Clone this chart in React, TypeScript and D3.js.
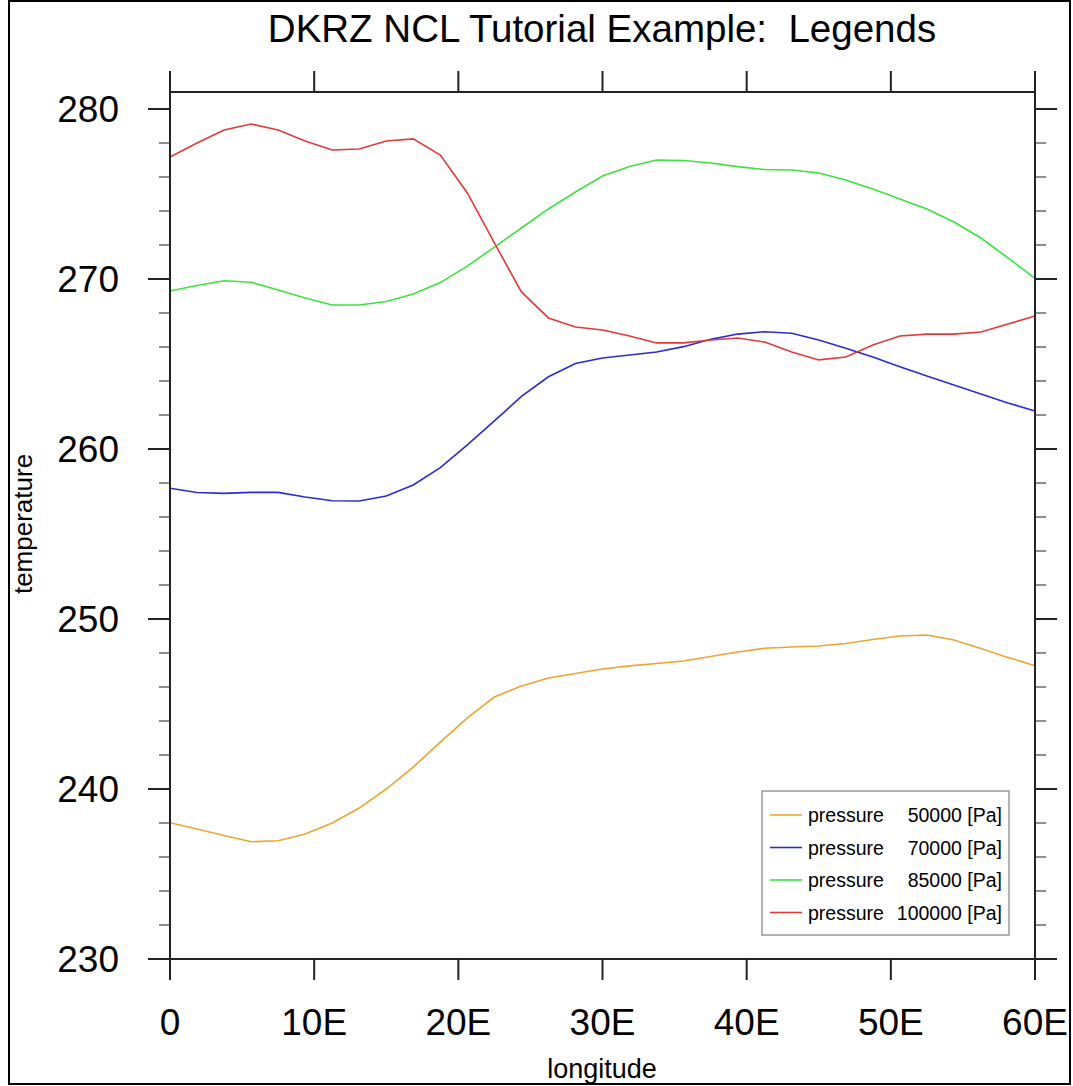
import React from "react";
import * as d3 from "d3";

const lons: number[] = d3.range(33).map((i) => i * 1.875);

const t500: number[] = [238.02, 237.65, 237.26, 236.9, 236.96, 237.35, 238.0, 238.88, 240.0, 241.29, 242.76, 244.18, 245.41, 246.06, 246.53, 246.79, 247.06, 247.24, 247.38, 247.53, 247.79, 248.06, 248.28, 248.35, 248.41, 248.56, 248.79, 249.0, 249.06, 248.76, 248.26, 247.74, 247.25];
const t700: number[] = [257.69, 257.44, 257.39, 257.45, 257.45, 257.18, 256.96, 256.94, 257.24, 257.88, 258.9, 260.24, 261.65, 263.09, 264.25, 265.03, 265.35, 265.53, 265.71, 266.02, 266.45, 266.76, 266.9, 266.81, 266.41, 265.92, 265.41, 264.84, 264.29, 263.76, 263.24, 262.71, 262.24];
const t850: number[] = [269.29, 269.62, 269.9, 269.81, 269.35, 268.88, 268.47, 268.47, 268.68, 269.12, 269.79, 270.76, 271.88, 273.0, 274.12, 275.12, 276.06, 276.62, 277.0, 276.97, 276.82, 276.61, 276.44, 276.41, 276.24, 275.82, 275.29, 274.71, 274.12, 273.35, 272.41, 271.24, 270.04];
const t1000: number[] = [277.18, 278.0, 278.76, 279.12, 278.76, 278.12, 277.59, 277.65, 278.12, 278.24, 277.29, 275.06, 272.12, 269.24, 267.71, 267.18, 267.0, 266.65, 266.24, 266.24, 266.41, 266.53, 266.29, 265.7, 265.24, 265.41, 266.12, 266.65, 266.76, 266.76, 266.88, 267.35, 267.82];

const seriesLevels: string[] = ["50000", "70000", "85000", "100000"];
const seriesColors: string[] = ["#eba632", "#2b2bd6", "#3ee23e", "#e03a3a"];
const xTicks: number[] = [0, 10, 20, 30, 40, 50, 60];
const xTickLabels: string[] = ["0", "10E", "20E", "30E", "40E", "50E", "60E"];
const yTicks: number[] = [230, 240, 250, 260, 270, 280];
const yMinorTicks: number[] = d3.range(232, 281, 2).filter((v) => v % 10 !== 0);

const FONT = "'Liberation Sans', Arial, Helvetica, sans-serif";

export default function App() {
  const x = d3.scaleLinear().domain([0, 60]).range([170, 1035]);
  const y = d3.scaleLinear().domain([230, 281]).range([959, 92]);
  const allSeries = [t500, t700, t850, t1000];
  const line = d3
    .line<number>()
    .x((_, i) => x(lons[i]))
    .y((d) => y(d));

  const axisColor = "#222";
  const left = x(0);
  const right = x(60);
  const top = y(281);
  const bottom = y(230);

  return (
    <svg
      width={1073}
      height={1086}
      style={{ position: "absolute", left: 0, top: 0, background: "#fff" }}
      fontFamily={FONT}
    >
      <rect x={0} y={0} width={1073} height={1086} fill="#fff" />
      <rect x={9} y={1} width={1061} height={1083} fill="none" stroke="#000" strokeWidth={2} />

      {/* title */}
      <text x={602} y={42} fontSize={38.5} textAnchor="middle" fill="#000" style={{ whiteSpace: "pre" }}>
        {"DKRZ NCL Tutorial Example:  Legends"}
      </text>

      {/* series */}
      {allSeries.map((s, i) => (
        <path key={i} d={line(s) || ""} fill="none" stroke={seriesColors[i]} strokeWidth={1.6} />
      ))}

      {/* frame */}
      <rect x={left} y={top} width={right - left} height={bottom - top} fill="none" stroke={axisColor} strokeWidth={2} />

      {/* x ticks */}
      {xTicks.map((t, i) => (
        <g key={"xt" + i}>
          <line x1={x(t)} x2={x(t)} y1={bottom} y2={bottom + 21} stroke={axisColor} strokeWidth={2} />
          <line x1={x(t)} x2={x(t)} y1={top} y2={top - 21} stroke={axisColor} strokeWidth={2} />
          <text x={x(t)} y={1035} fontSize={37} textAnchor="middle" fill="#000">
            {xTickLabels[i]}
          </text>
        </g>
      ))}

      {/* y ticks */}
      {yTicks.map((t) => (
        <g key={"yt" + t}>
          <line x1={left} x2={left - 22} y1={y(t)} y2={y(t)} stroke={axisColor} strokeWidth={2} />
          <line x1={right} x2={right + 22} y1={y(t)} y2={y(t)} stroke={axisColor} strokeWidth={2} />
          <text x={119} y={y(t) + 13} fontSize={37} textAnchor="end" fill="#000">
            {t}
          </text>
        </g>
      ))}
      {yMinorTicks.map((t) => (
        <g key={"ym" + t}>
          <line x1={left} x2={left - 11} y1={y(t)} y2={y(t)} stroke="#444" strokeWidth={1.2} />
          <line x1={right} x2={right + 11} y1={y(t)} y2={y(t)} stroke="#444" strokeWidth={1.2} />
        </g>
      ))}

      {/* axis titles */}
      <text x={602} y={1078} fontSize={27} textAnchor="middle" fill="#000">
        longitude
      </text>
      <text transform="translate(32,524) rotate(-90)" fontSize={26} textAnchor="middle" fill="#000">
        temperature
      </text>

      {/* legend */}
      <rect x={762} y={791} width={247} height={144} fill="#fff" stroke="#999" strokeWidth={1.5} />
      {seriesLevels.map((lev, i) => {
        const cy = 815 + i * 32.5;
        return (
          <g key={"lg" + lev}>
            <line x1={770} x2={802} y1={cy} y2={cy} stroke={seriesColors[i]} strokeWidth={1.6} />
            <text x={808} y={cy + 7} fontSize={19.5} fill="#000">
              pressure
            </text>
            <text x={1002} y={cy + 7} fontSize={19.5} textAnchor="end" fill="#000">
              {lev + " [Pa]"}
            </text>
          </g>
        );
      })}
    </svg>
  );
}
